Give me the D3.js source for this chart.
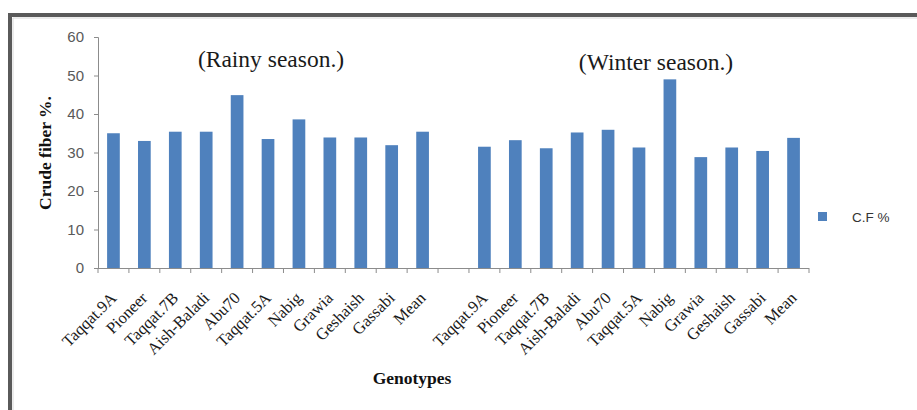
<!DOCTYPE html>
<html>
<head>
<meta charset="utf-8">
<script src="https://cdn.jsdelivr.net/npm/d3@7"></script>
<style>
  html, body { margin: 0; padding: 0; background: #fff; }
  svg { display: block; }
</style>
</head>
<body>
<svg id="chart" width="917" height="410"></svg>
<script>
const genotypes = ["Taqqat.9A","Pioneer","Taqqat.7B","Aish-Baladi","Abu70","Taqqat.5A","Nabig","Grawia","Geshaish","Gassabi","Mean"];
const rainyValues = [35.0, 33.0, 35.4, 35.4, 44.9, 33.5, 38.6, 33.9, 33.9, 31.9, 35.4];
const winterValues = [31.5, 33.2, 31.1, 35.2, 35.9, 31.3, 49.0, 28.8, 31.3, 30.4, 33.8];
const seasonTitles = ["(Rainy season.)", "(Winter season.)"];
const yTicks = [0, 10, 20, 30, 40, 50, 60];
const seriesName = "C.F %";

(function () {
// build slot list: rainy, gap, winter
const slots = [];
genotypes.forEach((g, i) => slots.push({key: "R" + i, label: g, value: rainyValues[i]}));
slots.push({key: "gap", label: "", value: null});
genotypes.forEach((g, i) => slots.push({key: "W" + i, label: g, value: winterValues[i]}));

const svg = d3.select("#chart");
const pLeft = 98, pRight = 809, pTop = 37, pBottom = 268;
const serif = "Liberation Serif, Times New Roman, serif";
const sans = "Liberation Sans, Arial, sans-serif";

// frame
svg.append("path")
  .attr("d", `M10,410 L10,15 L917,15`)
  .attr("fill", "none").attr("stroke", "#5a5a5a").attr("stroke-width", 4);
svg.append("path")
  .attr("d", `M13,410 L13,18 L917,18`)
  .attr("fill", "none").attr("stroke", "#d8d8d8").attr("stroke-width", 1);

const x = d3.scaleBand().domain(slots.map(d => d.key)).range([pLeft, pRight]).paddingInner(0).paddingOuter(0);
const y = d3.scaleLinear().domain([0, 60]).range([pBottom, pTop]);

// y axis
const yAxis = svg.append("g").attr("transform", `translate(${pLeft},0)`)
  .call(d3.axisLeft(y).tickValues(yTicks).tickSize(4).tickPadding(10));
yAxis.select(".domain").attr("stroke", "#8c8c8c");
yAxis.selectAll(".tick line").attr("stroke", "#8c8c8c");
yAxis.selectAll(".tick text").attr("font-family", sans)
  .attr("font-size", 15).attr("fill", "#595959");

// x axis line and ticks at slot boundaries
const boundaries = slots.map(d => x(d.key)).concat([pRight]);
svg.append("line").attr("x1", pLeft).attr("x2", pRight).attr("y1", pBottom + 0.5).attr("y2", pBottom + 0.5)
  .attr("stroke", "#8c8c8c");
svg.selectAll(".xtick").data(boundaries).enter().append("line")
  .attr("x1", d => d).attr("x2", d => d).attr("y1", pBottom).attr("y2", pBottom + 5)
  .attr("stroke", "#8c8c8c");

// bars
const barW = 12.7;
svg.selectAll(".bar").data(slots.filter(d => d.value !== null)).enter().append("rect")
  .attr("x", d => x(d.key) + x.bandwidth() / 2 - barW / 2)
  .attr("y", d => y(d.value))
  .attr("width", barW)
  .attr("height", d => y(0) - y(d.value))
  .attr("fill", "#4F81BD");

// x labels rotated
svg.selectAll(".xlab").data(slots.filter(d => d.label)).enter().append("text")
  .attr("transform", d => `translate(${x(d.key) + x.bandwidth() / 2 + 4},${pBottom + 31}) rotate(-45)`)
  .attr("text-anchor", "end")
  .attr("font-family", serif)
  .attr("font-size", 16.5)
  .attr("fill", "#1a1a1a")
  .text(d => d.label);

// season titles
svg.append("text").attr("x", 271).attr("y", 67).attr("text-anchor", "middle")
  .attr("font-family", serif).attr("font-size", 23.5).attr("fill", "#1a1a1a")
  .text(seasonTitles[0]);
svg.append("text").attr("x", 656).attr("y", 70).attr("text-anchor", "middle")
  .attr("font-family", serif).attr("font-size", 23.5).attr("fill", "#1a1a1a")
  .text(seasonTitles[1]);

// axis titles
svg.append("text").attr("transform", `translate(51,153) rotate(-90)`).attr("text-anchor", "middle")
  .attr("font-family", serif).attr("font-weight", "bold").attr("font-size", 17.5)
  .attr("fill", "#111").text("Crude fiber %.");
svg.append("text").attr("x", 412).attr("y", 384).attr("text-anchor", "middle")
  .attr("font-family", serif).attr("font-weight", "bold").attr("font-size", 17.5)
  .attr("fill", "#111").text("Genotypes");

// legend
svg.append("rect").attr("x", 818).attr("y", 212).attr("width", 9).attr("height", 9).attr("fill", "#4F81BD");
svg.append("text").attr("x", 852).attr("y", 222)
  .attr("font-family", sans).attr("font-size", 13.5).attr("fill", "#333")
  .text(seriesName);
})();
</script>
</body>
</html>
